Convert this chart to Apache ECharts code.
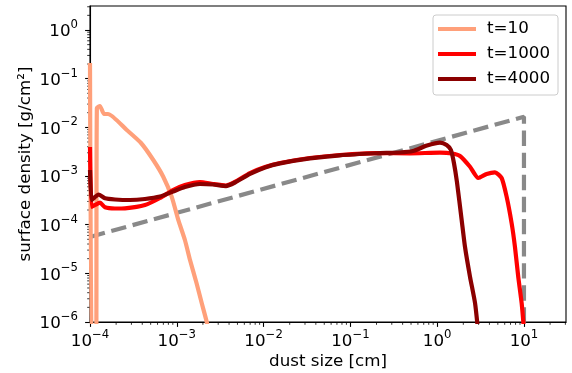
<!DOCTYPE html>
<html>
<head>
<meta charset="utf-8">
<script src="https://cdn.jsdelivr.net/npm/echarts@6/dist/echarts.min.js"></script>
<style>
  html, body { margin: 0; padding: 0; background: #fff; }
  #chart { width: 572px; height: 373px; }
</style>
</head>
<body>
<div id="chart"></div>
<script>
// Data
const legendNames = ['t=10', 't=1000', 't=4000']

const sizeT10 = [1.0e-4, 1.055e-4, 1.17e-4, 1.2e-4, 1.3e-4, 1.45e-4, 1.61e-4, 2.65e-4, 3.87e-4, 5.36e-4, 6.98e-4, 8.73e-4, 1.04e-3, 1.24e-3, 1.42e-3, 1.69e-3, 1.94e-3, 2.21e-3, 2.29e-3]
const densT10 = [0.21, 1e-7, 1e-7, 2.49e-2, 2.74e-2, 1.88e-2, 1.88e-2, 8.8e-3, 4.76e-3, 2.13e-3, 9.66e-4, 3.76e-4, 1.25e-4, 4.84e-5, 1.88e-5, 6.24e-6, 2.42e-6, 1.01e-6, 7e-7]

const sizeT1000 = [1.0e-4, 1.041e-4, 1.142e-4, 1.303e-4, 1.49e-4, 1.94e-4, 2.53e-4, 4.3e-4, 6.4e-4, 9.04e-4, 1.24e-3, 1.85e-3, 2.61e-3, 3.69e-3, 4.68e-3, 6.97e-3, 1.04e-2, 1.55e-2, 3.42e-2, 7.59e-2, 0.202, 0.486, 1.077, 1.48, 1.83, 2.39, 2.98, 3.72, 4.63, 5.53, 6.31, 7.21, 7.87, 8.59, 9.41, 10.0]
const densT1000 = [3.94e-3, 2.31e-4, 2.54e-4, 2.83e-4, 2.28e-4, 2.15e-4, 2.17e-4, 2.54e-4, 3.53e-4, 5.15e-4, 6.53e-4, 7.53e-4, 6.84e-4, 6.38e-4, 7.53e-4, 1.15e-3, 1.53e-3, 1.85e-3, 2.34e-3, 2.70e-3, 2.96e-3, 2.92e-3, 3.01e-3, 2.90e-3, 2.58e-3, 1.55e-3, 9.1e-4, 1.10e-3, 1.19e-3, 9.1e-4, 3.76e-4, 1.07e-4, 3.53e-5, 8.5e-6, 2.42e-6, 7e-7]

const sizeT4000 = [1.0e-4, 1.041e-4, 1.11e-4, 1.253e-4, 1.49e-4, 1.94e-4, 2.89e-4, 4.3e-4, 6.4e-4, 9.04e-4, 1.24e-3, 1.85e-3, 2.61e-3, 3.69e-3, 4.68e-3, 6.97e-3, 1.04e-2, 1.55e-2, 3.42e-2, 7.59e-2, 0.202, 0.372, 0.526, 0.763, 1.077, 1.286, 1.44, 1.56, 1.69, 1.915, 2.09, 2.39, 2.73, 2.95]
const densT4000 = [1.33e-3, 3.21e-4, 3.53e-4, 4.17e-4, 3.48e-4, 3.29e-4, 3.21e-4, 3.37e-4, 3.79e-4, 4.8e-4, 5.94e-4, 6.84e-4, 6.68e-4, 6.22e-4, 7.35e-4, 1.10e-3, 1.50e-3, 1.82e-3, 2.30e-3, 2.66e-3, 2.93e-3, 3.04e-3, 3.26e-3, 4.23e-3, 4.87e-3, 4.33e-3, 3.42e-3, 1.85e-3, 7.53e-4, 1.25e-4, 3.53e-5, 8.5e-6, 2.45e-6, 7e-7]

// dashed reference line
const sizeRef = [1.0e-4, 10.0, 10.0]
const densRef = [5.6e-5, 1.65e-2, 1e-7]

// axes
const xMin = 1e-4, xMax = 30.5
const yMin = 1e-6, yMax = 3.11
const xDecades = [-4, -3, -2, -1, 0, 1]
const yDecades = [-6, -5, -4, -3, -2, -1, 0]
const minorSteps = [2, 3, 4, 5, 6, 7, 8, 9]

const colors = ['#ffa07a', '#ff0000', '#8b0000']
const refColor = '#898989'
const FS = 16.7

const zip = (xs, ys) => xs.map((x, i) => [x, ys[i]])

const minorTicks = (decades, maxVal) => {
  const out = []
  decades.forEach(d => {
    minorSteps.forEach(k => {
      const v = k * Math.pow(10, d)
      if (v <= maxVal) out.push(v)
    })
  })
  return out
}

const powLabel = (v) => {
  const e = Math.log10(v)
  const r = Math.round(e)
  if (Math.abs(e - r) > 1e-6) return ''
  return '{b|10}{s|' + (r < 0 ? '\u2212' : '') + Math.abs(r) + '}'
}

const richLabel = {
  b: { fontSize: FS, lineHeight: 22, color: '#000', fontFamily: 'DejaVu Sans', padding: [4, 0, 0, 0] },
  s: { fontSize: FS * 0.7, lineHeight: 12, color: '#000', fontFamily: 'DejaVu Sans', verticalAlign: 'top' }
}

const chart = echarts.init(document.getElementById('chart'), null, { renderer: 'canvas' })

const lineSeries = (name, xs, ys, color) => ({
  name: name,
  type: 'line',
  data: zip(xs, ys),
  showSymbol: false,
  symbol: 'none',
  smooth: 0.2,
  lineStyle: { color: color, width: 4.2, join: 'round' },
  itemStyle: { color: color },
  animation: false
})

chart.setOption({
  animation: false,
  textStyle: { fontFamily: 'DejaVu Sans' },
  grid: {
    left: 90, right: 6, top: 6, bottom: 51,
    outerBoundsMode: 'none',
    show: true, borderColor: '#000', borderWidth: 1.1, backgroundColor: 'transparent'
  },
  legend: {
    data: legendNames,
    orient: 'vertical',
    right: 14,
    top: 15,
    align: 'left',
    icon: 'rect',
    itemWidth: 38,
    itemHeight: 4.2,
    itemGap: 8,
    padding: [5.5, 8, 7.5, 5],
    backgroundColor: 'rgba(255,255,255,0.8)',
    borderColor: '#cccccc',
    borderWidth: 1,
    borderRadius: 3,
    textStyle: { fontSize: FS, color: '#000', fontFamily: 'DejaVu Sans', lineHeight: 17, padding: [0, 0, 0, 6] }
  },
  xAxis: {
    type: 'log',
    logBase: 10,
    min: xMin,
    max: xMax,
    name: 'dust size [cm]',
    nameLocation: 'middle',
    nameGap: 31.5,
    nameMoveOverlap: false,
    nameTextStyle: { fontSize: FS, color: '#000', fontFamily: 'DejaVu Sans' },
    axisLine: { show: true, lineStyle: { color: '#000', width: 1.1 } },
    axisTick: { show: true, length: 4.9, lineStyle: { color: '#000', width: 1.1 } },
    axisLabel: { formatter: powLabel, rich: richLabel, margin: 7, showMaxLabel: false },
    splitLine: { show: false }
  },
  yAxis: {
    type: 'log',
    logBase: 10,
    min: yMin,
    max: yMax,
    name: 'surface density [g/cm\u00b2]',
    nameLocation: 'middle',
    nameGap: 56,
    nameMoveOverlap: false,
    nameRotate: 90,
    nameTextStyle: { fontSize: FS, color: '#000', fontFamily: 'DejaVu Sans' },
    axisLine: { show: true, lineStyle: { color: '#000', width: 1.1 } },
    axisTick: { show: true, length: 4.9, lineStyle: { color: '#000', width: 1.1 } },
    axisLabel: { formatter: powLabel, rich: richLabel, margin: 12, showMaxLabel: false },
    splitLine: { show: false }
  },
  series: [
    {
      name: 'ref',
      type: 'line',
      data: zip(sizeRef, densRef),
      showSymbol: false,
      symbol: 'none',
      lineStyle: { color: refColor, width: 4.2, type: [15.4, 6.7] },
      animation: false
    },
    lineSeries(legendNames[0], sizeT10, densT10, colors[0]),
    lineSeries(legendNames[1], sizeT1000, densT1000, colors[1]),
    lineSeries(legendNames[2], sizeT4000, densT4000, colors[2]),
    {
      // minor ticks on x axis
      type: 'custom',
      silent: true,
      data: minorTicks(xDecades, xMax).map(v => [v, yMin]),
      renderItem: (params, api) => {
        const p = api.coord([api.value(0), api.value(1)])
        return { type: 'line', shape: { x1: p[0], y1: p[1], x2: p[0], y2: p[1] + 2.8 }, style: { stroke: '#000', lineWidth: 0.8 } }
      }
    },
    {
      // minor ticks on y axis
      type: 'custom',
      silent: true,
      data: minorTicks(yDecades, yMax).map(v => [xMin, v]),
      renderItem: (params, api) => {
        const p = api.coord([api.value(0), api.value(1)])
        return { type: 'line', shape: { x1: p[0], y1: p[1], x2: p[0] - 2.8, y2: p[1] }, style: { stroke: '#000', lineWidth: 0.8 } }
      }
    }
  ]
})
</script>
</body>
</html>
